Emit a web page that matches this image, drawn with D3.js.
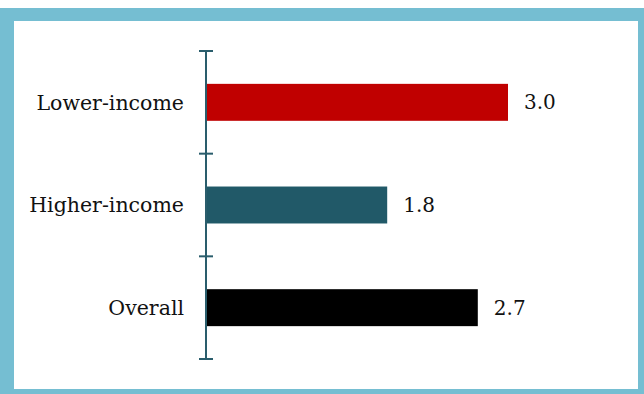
<!DOCTYPE html>
<html><head><meta charset="utf-8">
<script src="https://cdn.jsdelivr.net/npm/d3@7"></script>
<style>html,body{margin:0;padding:0;background:#fff}svg{display:block}</style>
</head><body>
<script>
const categories = ["Lower-income", "Higher-income", "Overall"];
const values = [3.0, 1.8, 2.7];
const valueLabels = ["3.0", "1.8", "2.7"];
const colors = ["#c00000", "#215968", "#000000"];

(function () {
const W = 644, H = 394;
const svg = d3.select("body").append("svg").attr("width", W).attr("height", H);

// frame
svg.append("rect").attr("x", 0).attr("y", 8).attr("width", W).attr("height", H - 8).attr("fill", "#75bed2");
svg.append("rect").attr("x", 14).attr("y", 21).attr("width", 624).attr("height", 368).attr("fill", "#fff");

const x0 = 206, yTop = 51, yBottom = 359;
const x = d3.scaleLinear().domain([0, 3]).range([x0, 508]);
const y = d3.scaleBand().domain(categories).range([yTop, yBottom]).paddingInner(0.64).paddingOuter(0.32);
const edge = d3.scaleLinear().domain([0, categories.length]).range([yTop, yBottom]);

const font = "'DejaVu Serif', 'Liberation Serif', serif";

// bars
svg.selectAll("rect.bar").data(categories).join("rect")
  .attr("class", "bar")
  .attr("x", x(0))
  .attr("y", d => y(d))
  .attr("width", (d, i) => x(values[i]) - x(0))
  .attr("height", y.bandwidth())
  .attr("fill", (d, i) => colors[i]);

// axis line and ticks
const axisColor = "#2a5d6c";
svg.append("line").attr("x1", x0).attr("x2", x0).attr("y1", edge(0)).attr("y2", edge(3))
  .attr("stroke", axisColor).attr("stroke-width", 2);
svg.selectAll("line.tick").data(d3.range(categories.length + 1)).join("line")
  .attr("class", "tick")
  .attr("x1", x0 - 7).attr("x2", x0 + 7)
  .attr("y1", d => edge(d)).attr("y2", d => edge(d))
  .attr("stroke", axisColor).attr("stroke-width", 2);

// category labels
svg.selectAll("text.cat").data(categories).join("text")
  .attr("class", "cat")
  .attr("x", x0 - 22)
  .attr("y", d => y(d) + y.bandwidth() / 2)
  .attr("dy", "0.35em")
  .attr("text-anchor", "end")
  .attr("font-family", font).attr("font-size", 20.5).attr("fill", "#111")
  .text(d => d);

// value labels
svg.selectAll("text.val").data(categories).join("text")
  .attr("class", "val")
  .attr("x", (d, i) => x(values[i]) + 16)
  .attr("y", d => y(d) + y.bandwidth() / 2)
  .attr("dy", "0.35em")
  .attr("font-family", font).attr("font-size", 20).attr("fill", "#111")
  .text((d, i) => valueLabels[i]);
})();
</script>
</body></html>
